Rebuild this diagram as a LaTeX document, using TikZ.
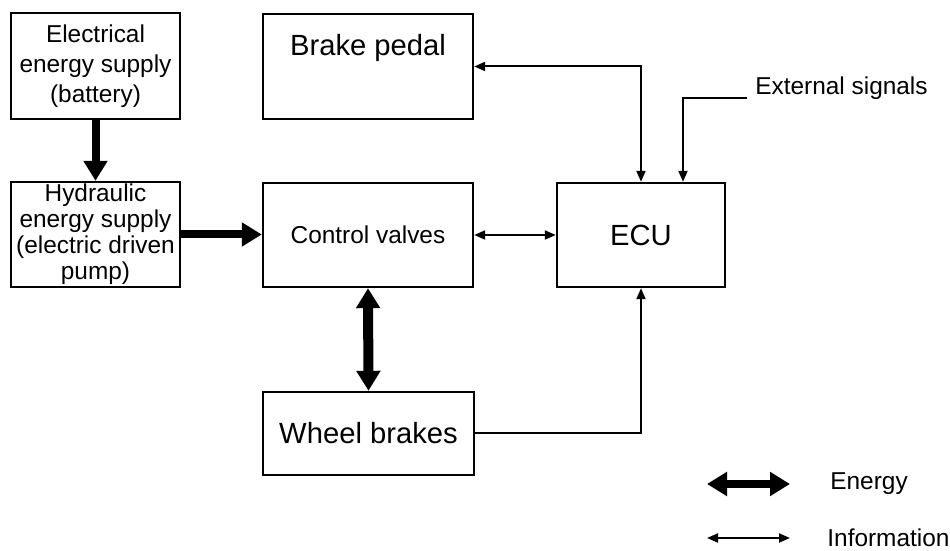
\documentclass[tikz,border=0pt]{standalone}
\usepackage{fontspec}
\setmainfont{Liberation Sans}
\usepackage{tikz}
\usetikzlibrary{arrows.meta, positioning, calc}

\begin{document}
\begin{tikzpicture}[x=0.5pt, y=-0.5pt,
    box/.style={draw, line width=1.2pt, inner sep=0pt, align=center},
    big/.style={font=\fontsize{14.6}{17}\selectfont},
    small/.style={font=\fontsize{12.2}{15}\selectfont},
    energy/.style={line width=4pt, -{Triangle[width=11.5pt, length=10pt]}},
    info/.style={line width=1pt, -{Triangle[width=4.5pt, length=5.5pt]}}]
  \useasboundingbox (0,0) rectangle (950,551);

  % blocks
  \node[box, small, minimum width=84.5pt, minimum height=53pt] (elec) at (95.5,66)
    {Electrical\\energy supply\\(battery)};
  \node[box, minimum width=84.5pt, minimum height=52.5pt,
        font=\fontsize{12.2}{13}\selectfont] (hyd) at (95.5,234.5)
    {Hydraulic\\energy supply\\(electric driven\\pump)};
  \node[box, big, minimum width=105pt, minimum height=52.5pt, text depth=21.5pt] (pedal) at (368,66.5)
    {Brake pedal};
  \node[box, small, minimum width=105pt, minimum height=52pt] (cv) at (368,235) {Control valves};
  \node[box, big, minimum width=84pt, minimum height=52pt] (ecu) at (641,235) {ECU};
  \node[box, big, minimum width=105.5pt, minimum height=41.5pt] (wheel) at (368.5,433.5) {Wheel brakes};
  \node[small, anchor=west, inner sep=0pt] (extsig) at (755,88) {External signals};
  \coordinate (ext) at (747,98);

  % energy flow
  \draw[energy] (elec.south) -- (hyd.north);
  \draw[energy] (hyd.east) -- (hyd.east -| cv.west);
  \draw[energy, {Triangle[width=11.5pt, length=10pt]}-{Triangle[width=11.5pt, length=10pt]}, line width=5pt]
    (cv.south) -- (wheel.north);

  % information flow
  \draw[info, {Triangle[width=4.5pt, length=5.5pt]}-{Triangle[width=4.5pt, length=5.5pt]}]
    (pedal.east) -| (ecu.north);
  \draw[info] (ext) -| ([xshift=21pt]ecu.north);
  \draw[info, {Triangle[width=4.5pt, length=5.5pt]}-{Triangle[width=4.5pt, length=5.5pt]}]
    (cv.east) -- (ecu.west);
  \draw[info] (wheel.east) -| (ecu.south);

  % legend
  \coordinate (e1) at (707,484);
  \coordinate (e2) at (790,484);
  \coordinate (i1) at (707,538);
  \coordinate (i2) at (790,538);
  \draw[energy, {Triangle[width=11.5pt, length=10pt]}-{Triangle[width=11.5pt, length=10pt]}] (e1) -- (e2);
  \draw[info, {Triangle[width=4.5pt, length=5.5pt]}-{Triangle[width=4.5pt, length=5.5pt]}] (i1) -- (i2);
  \node[small, anchor=west, inner sep=0pt] (energytxt) at (830,484) {Energy};
  \node[small, anchor=west, inner sep=0pt] (infotxt) at (827,538) {Information};
\end{tikzpicture}
\end{document}
